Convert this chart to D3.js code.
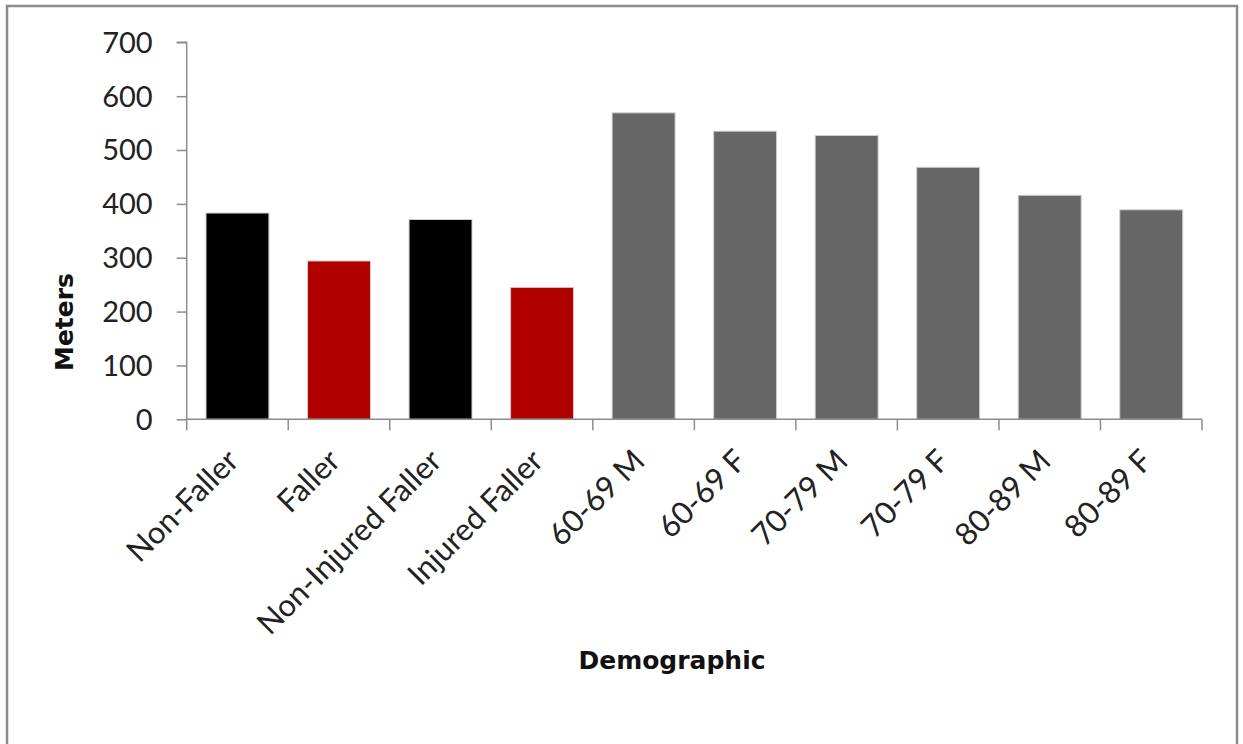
<!DOCTYPE html>
<html><head><meta charset="utf-8">
<script src="https://cdn.jsdelivr.net/npm/d3@7"></script>
<style>body{margin:0;background:#fff;}svg{display:block;}</style>
</head><body>
<svg id="c" width="1243" height="744"></svg>
<script>
const categories = ["Non-Faller","Faller","Non-Injured Faller","Injured Faller","60-69 M","60-69 F","70-79 M","70-79 F","80-89 M","80-89 F"];
const values = [383, 294, 371, 245, 569, 535, 527, 468, 416, 389];
const barColors = ["#000000","#B00000","#000000","#B00000","#666666","#666666","#666666","#666666","#666666","#666666"];
const yTicks = [0,100,200,300,400,500,600,700];

(function(){
const svg = d3.select("#c");
const font = "Lato, 'Open Sans', sans-serif";
const titleFont = "'DejaVu Sans', sans-serif";
svg.append("rect").attr("x",7).attr("y",6).attr("width",1230).attr("height",745)
  .attr("fill","#fff").attr("stroke","#8c8c8c").attr("stroke-width",2.5);

const pLeft = 186.7, pRight = 1202, pTop = 42.3, pBottom = 419.3;
const x = d3.scaleBand().domain(categories).range([pLeft,pRight]).paddingInner(0.38).paddingOuter(0.19);
const y = d3.scaleLinear().domain([0,700]).range([pBottom,pTop]);

svg.selectAll("rect.bar").data(values).enter().append("rect").attr("class","bar")
  .attr("x",(d,i)=>x(categories[i])).attr("width",x.bandwidth())
  .attr("y",d=>y(d)).attr("height",d=>y(0)-y(d))
  .attr("fill",(d,i)=>barColors[i]).attr("stroke","#d0d0d0").attr("stroke-width",1);

const yAxis = svg.append("g").attr("transform",`translate(${pLeft},0)`)
  .call(d3.axisLeft(y).tickValues(yTicks).tickSize(10).tickPadding(24).tickFormat(d3.format("d")));
yAxis.select(".domain").attr("stroke","#8c8c8c").attr("stroke-width",1.5).attr("d",`M-10,${pTop}H0V${pBottom}`);
yAxis.selectAll(".tick line").attr("stroke","#8c8c8c").attr("stroke-width",1.5);
yAxis.selectAll(".tick text").attr("font-family",font).attr("font-size",29).attr("fill","#222")
  .attr("dy","0.34em");

const xAxis = svg.append("g").attr("transform",`translate(0,${pBottom})`)
  .call(d3.axisBottom(x).tickSize(0).tickFormat(""));
xAxis.select(".domain").attr("stroke","#8c8c8c").attr("stroke-width",1.5).attr("d",`M${pLeft},0H${pRight}`);
const step = x.step();
const bounds = d3.range(categories.length+1).map(i=>pLeft + i*step);
svg.append("g").selectAll("line").data(bounds).enter().append("line")
  .attr("x1",d=>d).attr("x2",d=>d).attr("y1",pBottom).attr("y2",pBottom+11)
  .attr("stroke","#8c8c8c").attr("stroke-width",1.5);

svg.append("g").selectAll("text").data(categories).enter().append("text")
  .attr("transform",d=>`translate(${x(d)+x.bandwidth()/2+3},${pBottom+43.5}) rotate(-45)`)
  .attr("text-anchor","end").attr("font-family",font).attr("font-size",31).attr("fill","#222")
  .text(d=>d);

svg.append("text").attr("x",672).attr("y",669).attr("text-anchor","middle")
  .attr("font-family",titleFont).attr("font-weight","bold").attr("font-size",25).attr("fill","#111")
  .text("Demographic");
svg.append("text").attr("transform","translate(73,322) rotate(-90)").attr("text-anchor","middle")
  .attr("font-family",titleFont).attr("font-weight","bold").attr("font-size",25).attr("fill","#111")
  .text("Meters");
})();
</script>
</body></html>
